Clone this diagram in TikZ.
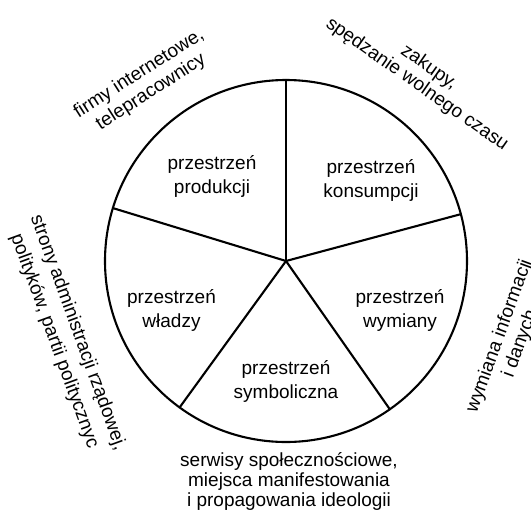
\documentclass[tikz,border=0pt]{standalone}
\usepackage{fontspec}
\setmainfont{Liberation Sans}
\begin{document}
\begin{tikzpicture}[x=1pt,y=-1pt,
  inner/.style={align=center,font=\fontsize{19}{24}\selectfont,inner sep=0pt},
  outer/.style={align=center,inner sep=0pt},
  spoke/.style={line width=2.1pt,line cap=round},
  wheel/.style={circle,draw,line width=2.1pt,minimum size=362pt,inner sep=0pt,outer sep=0pt}
]
\useasboundingbox (0,0) rectangle (531,515);
\coordinate (c) at (286,261);
\node[wheel] (circ) at (c) {};
\draw[spoke] (c) -- (circ.90);
\draw[spoke] (c) -- (circ.163);
\draw[spoke] (c) -- (circ.234);
\draw[spoke] (c) -- (circ.305);
\draw[spoke] (c) -- (circ.15);

\node[inner] (prod) at (212,176) {przestrzeń\\produkcji};
\node[inner] (kons) at (371,180) {przestrzeń\\konsumpcji};
\node[inner] (wlad) at (171.5,310.5) {przestrzeń\\władzy};
\node[inner] (wym) at (400,310.5) {przestrzeń\\wymiany};
\node[inner] (symb) at (286,381) {przestrzeń\\symboliczna};

\node[outer,font=\fontsize{19}{22}\selectfont,rotate=32.5] (lprod) at (145,83) {firmy internetowe,\\telepracownicy};
\node[outer,font=\fontsize{19}{21}\selectfont,rotate=-35] (lkons) at (423,76) {zakupy,\\spędzanie wolnego czasu};
\node[outer,font=\fontsize{19}{25}\selectfont,rotate=-70] (lwlad) at (66,337) {strony administracji rządowej,\\polityków, partii politycznyc};
\node[outer,font=\fontsize{19}{22}\selectfont,rotate=70] (lwym) at (510,340) {wymiana informacji\\i danych};
\node[outer,font=\fontsize{19}{20}\selectfont] (lsymb) at (289,481.3) {serwisy społecznościowe,\\miejsca manifestowania\\i propagowania ideologii};
\end{tikzpicture}
\end{document}
